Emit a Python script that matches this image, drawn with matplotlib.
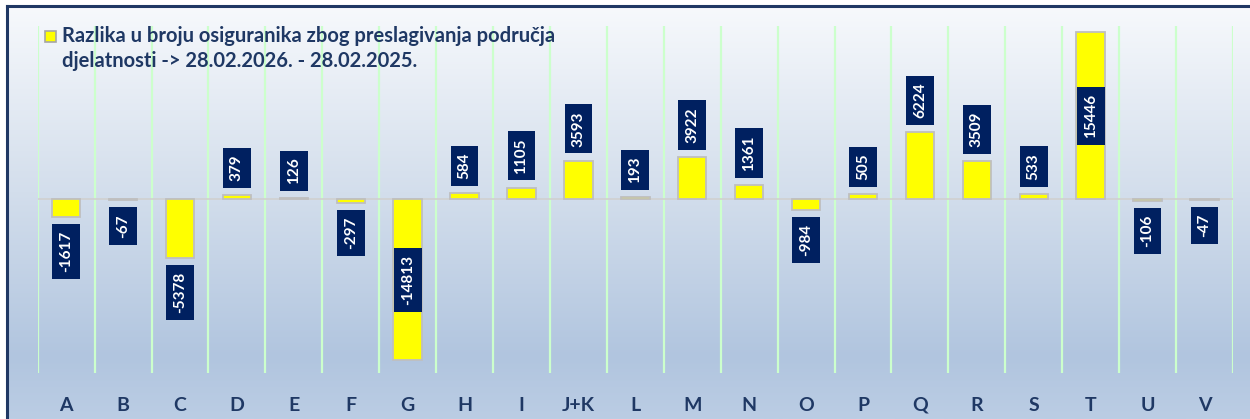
import numpy as np
import matplotlib
matplotlib.use('Agg')
import matplotlib.pyplot as plt
from matplotlib.colors import LinearSegmentedColormap
from matplotlib.patches import Rectangle
from matplotlib.lines import Line2D

plt.rcParams['font.family'] = ['Lato', 'DejaVu Sans']

# podrucja djelatnosti
categories = ['A', 'B', 'C', 'D', 'E', 'F', 'G', 'H', 'I', 'J+K', 'L',
              'M', 'N', 'O', 'P', 'Q', 'R', 'S', 'T', 'U', 'V']
values = [-1617, -67, -5378, 379, 126, -297, -14813, 584, 1105, 3593, 193,
          3922, 1361, -984, 505, 6224, 3509, 533, 15446, -106, -47]
legend_text = ('Razlika u broju osiguranika zbog preslagivanja područja\n'
               'djelatnosti -> 28.02.2026. - 28.02.2025.')

W, H = 1250, 419
fig = plt.figure(figsize=(W / 100, H / 100), dpi=100)

# background gradient inside the frame
bg = fig.add_axes([7 / W, 0, 1 - 7 / W, 1 - 7 / H], zorder=0)
cmap = LinearSegmentedColormap.from_list(
    'bg', [(0, '#F7F9FC'), (0.45, '#D3DEEC'), (0.85, '#B1C5DF'), (1.0, '#BBCDE4')])
grad = np.linspace(0, 1, 256).reshape(-1, 1)
bg.imshow(grad, aspect='auto', cmap=cmap, extent=[0, 1, 0, 1], origin='upper')
bg.set_axis_off()

# frame lines (top and left)
fig.add_artist(Line2D([6.5 / W, 1], [1 - 6.5 / H, 1 - 6.5 / H], transform=fig.transFigure,
                      color='#203864', lw=2.2, zorder=5))
fig.add_artist(Line2D([6.5 / W, 6.5 / W], [0, 1 - 6.5 / H], transform=fig.transFigure,
                      color='#203864', lw=2.2, zorder=5))

ax = fig.add_axes([37.7 / W, 46 / H, (1233 - 37.7) / W, (373 - 26) / H], zorder=2)
ax.patch.set_alpha(0)
x = np.arange(len(categories))
ax.set_xlim(-0.5, len(categories) - 0.5)
ax.set_ylim(-16000, 16000)

for b in np.arange(-0.5, len(categories), 1.0):
    ax.axvline(b, color='#CCFFCC', lw=1.6, zorder=1)
ax.axhline(0, color='#D0D0D0', lw=1.2, zorder=2)

ax.bar(x, values, width=0.5, color='#FFFF00', edgecolor='#BFBFBF', linewidth=1.3, zorder=3)

for xi, v in zip(x, values):
    if abs(v) > 10000:
        y, off, va = v / 2, 0, 'center'
    elif v >= 0:
        y, off, va = v, 14, 'bottom'
    else:
        y, off, va = v, -14, 'top'
    ax.annotate(str(v), (xi, y), xytext=(0, off), textcoords='offset pixels',
                rotation=90, ha='center', va=va, color='white', fontsize=11,
                fontweight='bold', zorder=4,
                bbox=dict(boxstyle='square,pad=0.45', fc='#002060', ec='none'))

ax.set_xticks(x)
ax.set_xticklabels(categories, fontsize=14, fontweight='bold', color='#1F3864')
ax.tick_params(axis='x', length=0, pad=17)
ax.set_yticks([])
for s in ax.spines.values():
    s.set_visible(False)

# legend
fig.add_artist(Rectangle((45 / W, 1 - 42 / H), 11 / W, 11 / H, transform=fig.transFigure,
                         fc='#FFFF00', ec='#A6A6A6', lw=1.2, zorder=6))
fig.text(62 / W, 1 - 26 / H, legend_text, ha='left', va='top', fontsize=14.5,
         fontweight='bold', color='#1F3864', linespacing=1.32, zorder=6)

fig.savefig('out.png', dpi=100)
